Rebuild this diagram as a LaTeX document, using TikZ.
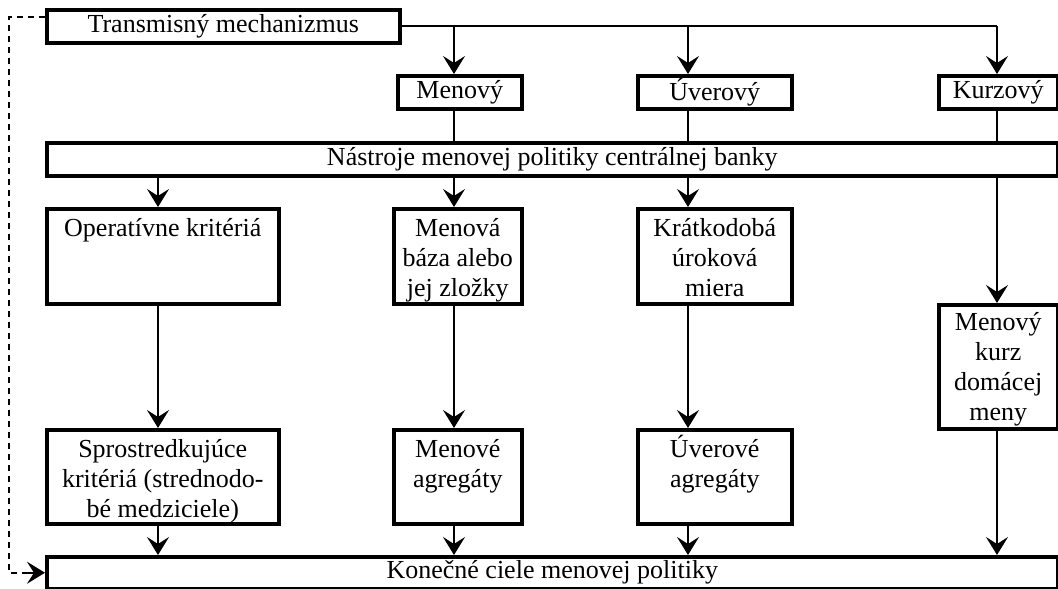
\documentclass[tikz,border=0pt]{standalone}
\usepackage{fontspec}
\setmainfont{Liberation Serif}
\usetikzlibrary{arrows.meta,calc}
\newcommand{\tbox}[4][28]{\parbox[c][#3pt][t]{#2pt}{\centering\rule{0pt}{#1pt}#4}}
\begin{document}
\begin{tikzpicture}[x=1pt,y=1pt,
  box/.style={draw, line width=3.5pt, inner sep=0pt, anchor=north west,
              font=\fontsize{26}{30}\selectfont, align=center},
  conn/.style={line width=1.7pt},
  tip/.style={-{Stealth[length=18pt,width=22pt,inset=7pt]}},
  arr/.style={conn, tip},
  fb/.style={line width=1.7pt, dash pattern=on 6pt off 5pt}]
\useasboundingbox (0,0) rectangle (1058,-589);
% column x positions of connectors
\coordinate (xa) at (158,0);
\coordinate (xb) at (454,0);
\coordinate (xc) at (688,0);
\coordinate (xd) at (997,0);
\coordinate (dl) at (9,0);
% top
\node[box, minimum width=353pt, minimum height=33pt] (T) at (45,-8) {Transmisný mechanizmus};
\node[box, minimum width=124pt, minimum height=33pt] (me) at (396,-74) {Menový};
\node[box, minimum width=154pt, minimum height=33pt] (uv) at (636,-74) {Úverový};
\node[box, minimum width=119pt, minimum height=33pt] (kz) at (937,-74) {Kurzový};
\node[box, minimum width=1011pt, minimum height=33pt] (ns) at (45,-141) {Nástroje menovej politiky centrálnej banky};
% middle row
\node[box] (op) at (45,-207) {\tbox{232}{95}{Operatívne kritériá}};
\node[box] (mb) at (392,-207) {\tbox{128}{95}{Menová\\báza alebo\\jej zložky}};
\node[box] (kr) at (636,-207) {\tbox{154}{95}{Krátkodobá\\úroková\\miera}};
\node[box] (mk) at (937,-303) {\tbox[26]{119}{124}{Menový\\kurz\\domácej\\meny}};
% lower row
\node[box] (sp) at (45,-428) {\tbox{232}{94}{Sprostredkujúce\\kritériá (strednodo-\\bé medziciele)}};
\node[box] (ma) at (392,-428) {\tbox{128}{94}{Menové\\agregáty}};
\node[box] (ua) at (636,-428) {\tbox{154}{94}{Úverové\\agregáty}};
% bottom
\node[box, minimum width=1011pt, minimum height=32pt] (ko) at (45,-555) {Konečné ciele menovej politiky};
% connectors: top distribution
\draw[conn] (T.east) -- (T.east -| xd);
\draw[arr] (T.east -| xb) -- (me.north -| xb);
\draw[arr] (T.east -| xc) -- (uv.north -| xc);
\draw[arr] (T.east -| xd) -- (kz.north -| xd);
% channels to instruments
\draw[conn] (me.south -| xb) -- (ns.north -| xb);
\draw[conn] (uv.south -| xc) -- (ns.north -| xc);
\draw[conn] (kz.south -| xd) -- (ns.north -| xd);
% instruments to operating criteria
\draw[arr] (ns.south -| xa) -- (op.north -| xa);
\draw[arr] (ns.south -| xb) -- (mb.north -| xb);
\draw[arr] (ns.south -| xc) -- (kr.north -| xc);
\draw[arr] (ns.south -| xd) -- (mk.north -| xd);
% operating to intermediate
\draw[arr] (op.south -| xa) -- (sp.north -| xa);
\draw[arr] (mb.south -| xb) -- (ma.north -| xb);
\draw[arr] (kr.south -| xc) -- (ua.north -| xc);
% to final goals
\draw[arr] (sp.south -| xa) -- (ko.north -| xa);
\draw[arr] (ma.south -| xb) -- (ko.north -| xb);
\draw[arr] (ua.south -| xc) -- (ko.north -| xc);
\draw[arr] (mk.south -| xd) -- (ko.north -| xd);
% dashed feedback
\draw[fb] ([yshift=9pt]T.west) -- ([yshift=9pt]T.west -| dl) -- (ko.west -| dl)
  -- ([xshift=-20pt]ko.west);
\draw[conn, tip] ([xshift=-22pt]ko.west) -- (ko.west);
\end{tikzpicture}
\end{document}
